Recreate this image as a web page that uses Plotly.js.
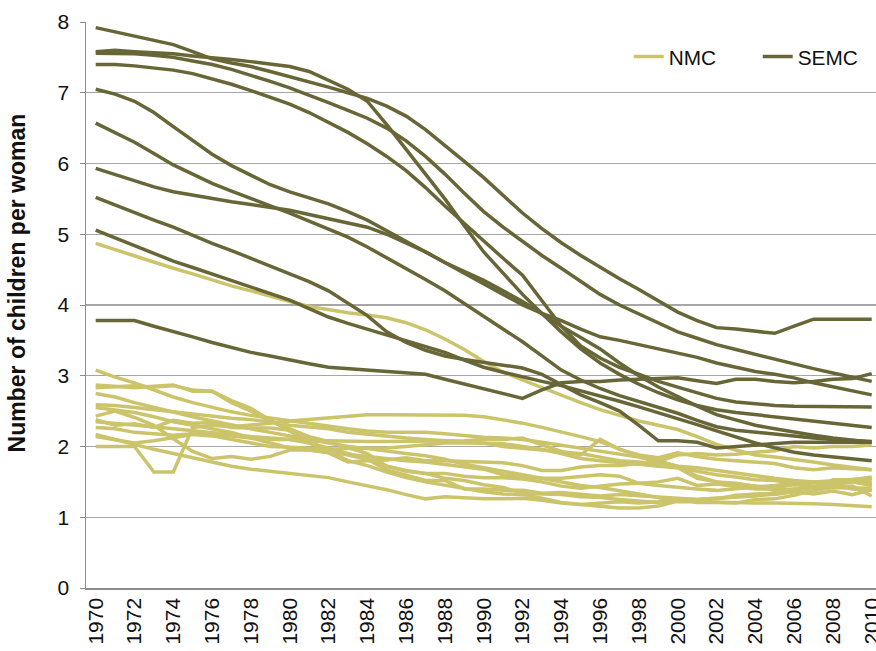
<!DOCTYPE html>
<html>
<head>
<meta charset="utf-8">
<script src="https://cdn.plot.ly/plotly-3.0.1.min.js"></script>
<style>html,body{margin:0;padding:0;background:#fff;}#chart{width:876px;height:651px;}</style>
</head>
<body>
<div id="chart"></div>
<script>
// Years (x categories)
var years = [];
for (var yr = 1970; yr <= 2010; yr++) years.push(yr);
var tickYears = [1970,1972,1974,1976,1978,1980,1982,1984,1986,1988,1990,1992,1994,1996,1998,2000,2002,2004,2006,2008,2010];
var tickLabels = tickYears.map(String);
var yTicks = [0,1,2,3,4,5,6,7,8];

// NMC series (light)
var nmc1 = [4.87,4.78,4.70,4.61,4.52, 4.44,4.35,4.27,4.20,4.12, 4.05,3.98,3.93,3.89,3.86, 3.82,3.75,3.65,3.52,3.37, 3.20,3.05,2.94,2.83,2.72, 2.62,2.52,2.44,2.36,2.30, 2.24,2.14,2.03,1.95,1.88, 1.85,1.82,1.78,1.74,1.70, 1.67];
var nmc2 = [3.08,2.98,2.90,2.80,2.70, 2.62,2.55,2.49,2.44,2.40, 2.37,2.32,2.28,2.25,2.22, 2.20,2.20,2.20,2.18,2.15, 2.13,2.12,2.10,2.06,2.02, 1.98,1.94,1.90,1.85,1.78, 1.72,1.70,1.66,1.62,1.58, 1.55,1.52,1.50,1.50,1.52, 1.52];
var nmc3 = [2.87,2.85,2.83,2.85,2.87, 2.78,2.78,2.62,2.50,2.36, 2.25,2.14,2.07,1.98,1.90, 1.72,1.66,1.62,1.62,1.58, 1.56,1.56,1.54,1.50,1.44, 1.41,1.44,1.47,1.48,1.50, 1.55,1.45,1.47,1.44,1.40, 1.40,1.36,1.33,1.37,1.32, 1.39];
var nmc4 = [2.83,2.85,2.86,2.84,2.86, 2.80,2.78,2.65,2.54,2.37, 2.22,2.05,1.94,1.80,1.73, 1.64,1.56,1.50,1.45,1.40, 1.36,1.33,1.32,1.27,1.21, 1.18,1.16,1.13,1.13,1.16, 1.23,1.24,1.26,1.31,1.32, 1.34,1.36,1.39,1.46,1.40, 1.38];
var nmc5 = [2.75,2.70,2.62,2.55,2.48, 2.42,2.36,2.30,2.25,2.20, 2.15,2.10,2.05,2.00,1.97, 1.93,1.90,1.87,1.82,1.75, 1.70,1.65,1.60,1.55,1.50, 1.45,1.42,1.38,1.33,1.28, 1.22,1.22,1.21,1.21,1.20, 1.20,1.20,1.19,1.18,1.17, 1.15];
var nmc6 = [2.00,2.00,2.00,1.64,1.64, 2.27,2.30,2.28,2.30,2.33, 2.36,2.38,2.40,2.42,2.45, 2.45,2.45,2.45,2.45,2.44, 2.42,2.38,2.33,2.27,2.21, 2.14,2.07,1.96,1.86,1.80, 1.72,1.58,1.50,1.46,1.44, 1.42,1.46,1.44,1.46,1.50, 1.45];
var nmc7 = [2.43,2.50,2.41,2.30,2.11, 1.93,1.83,1.86,1.82,1.86, 1.95,1.95,1.91,1.78,1.80, 1.81,1.84,1.80,1.80,1.79, 1.78,1.77,1.73,1.66,1.66, 1.71,1.73,1.73,1.76,1.79, 1.88,1.90,1.88,1.89,1.92, 1.94,2.00,1.98,2.00,2.00, 2.02];
var nmc8 = [2.38,2.30,2.32,2.27,2.37, 2.33,2.34,2.27,2.26,2.26, 2.23,2.09,1.94,1.88,1.82, 1.67,1.60,1.52,1.52,1.40, 1.40,1.38,1.38,1.34,1.35, 1.32,1.30,1.32,1.30,1.28, 1.26,1.25,1.27,1.28,1.30, 1.33,1.40,1.41,1.50,1.52, 1.48];
var nmc9 = [2.17,2.10,2.02,1.96,1.90, 1.84,1.78,1.72,1.68,1.65, 1.63,1.60,1.56,1.50,1.45, 1.39,1.32,1.26,1.29,1.27, 1.26,1.26,1.27,1.24,1.20, 1.18,1.20,1.22,1.20,1.22, 1.26,1.25,1.27,1.29,1.33, 1.32,1.36,1.38,1.42,1.41, 1.41];
var nmc10 = [2.27,2.25,2.20,2.18,2.16, 2.18,2.17,2.15,2.12,2.10, 2.10,2.05,1.98,1.90,1.82, 1.72,1.65,1.62,1.55,1.52, 1.46,1.42,1.34,1.33,1.32, 1.29,1.28,1.25,1.23,1.21, 1.26,1.21,1.21,1.20,1.25, 1.26,1.31,1.38,1.53,1.53, 1.57];
var nmc11 = [2.14,2.10,2.05,2.08,2.12, 2.17,2.15,2.10,2.05,2.00, 1.99,1.98,1.96,1.97,1.97, 1.98,2.00,2.02,2.05,2.05, 2.05,2.04,2.00,1.96,1.90, 1.83,1.80,1.78,1.75,1.72, 1.70,1.55,1.50,1.48,1.44, 1.38,1.40,1.38,1.43,1.44, 1.30];
var nmc12 = [2.35,2.33,2.30,2.28,2.25, 2.22,2.20,2.17,2.14,2.12, 2.10,2.08,2.08,2.07,2.07, 2.07,2.07,2.07,2.07,2.08, 2.10,2.10,2.12,2.02,1.93, 1.88,2.10,1.96,1.88,1.84, 1.91,1.86,1.82,1.80,1.78, 1.76,1.70,1.67,1.70,1.68, 1.67];
var nmc13 = [2.59,2.58,2.55,2.52,2.48, 2.45,2.42,2.40,2.38,2.35, 2.30,2.28,2.25,2.20,2.17, 2.14,2.12,2.10,2.08,2.06, 2.05,2.00,1.98,1.95,1.92, 1.90,1.85,1.80,1.78,1.75, 1.70,1.65,1.60,1.57,1.53, 1.52,1.48,1.50,1.52,1.54, 1.55];
var nmc14 = [2.55,2.52,2.48,2.42,2.35, 2.30,2.25,2.20,2.12,2.05, 1.98,1.95,1.92,1.88,1.85, 1.82,1.80,1.78,1.75,1.72, 1.68,1.60,1.58,1.55,1.55, 1.58,1.60,1.58,1.48,1.45, 1.42,1.40,1.38,1.40,1.42, 1.45,1.48,1.50,1.48,1.50, 1.46];

// SEMC series (dark)
var semcJ = [7.92,7.86,7.80,7.74,7.68, 7.58,7.48,7.42,7.37,7.30, 7.23,7.15,7.08,7.00,6.92, 6.81,6.67,6.48,6.26,6.03, 5.80,5.55,5.30,5.08,4.88, 4.70,4.53,4.37,4.22,4.06, 3.90,3.78,3.68,3.66,3.63, 3.60,3.70,3.80,3.80,3.80, 3.80];
var semcA = [7.58,7.60,7.58,7.57,7.55, 7.52,7.50,7.47,7.44,7.40, 7.37,7.30,7.18,7.05,6.88, 6.55,6.20,5.85,5.50,5.12, 4.75,4.45,4.15,3.88,3.62, 3.38,3.18,3.02,2.88,2.76, 2.66,2.58,2.52,2.48,2.45, 2.42,2.38,2.35,2.32,2.30, 2.27];
var semcC = [7.56,7.56,7.55,7.53,7.50, 7.45,7.40,7.33,7.25,7.16, 7.07,6.97,6.86,6.75,6.64, 6.50,6.32,6.10,5.85,5.58, 5.32,5.10,4.90,4.70,4.52, 4.33,4.15,4.00,3.87,3.74, 3.62,3.53,3.44,3.37,3.30, 3.23,3.16,3.10,3.04,2.98, 2.92];
var semcD = [7.40,7.40,7.38,7.35,7.32, 7.27,7.20,7.12,7.03,6.94, 6.84,6.72,6.58,6.44,6.28, 6.10,5.90,5.66,5.40,5.15, 4.90,4.66,4.42,4.05,3.70, 3.42,3.25,3.12,3.02,2.92, 2.84,2.76,2.68,2.63,2.60, 2.58,2.57,2.57,2.56,2.56, 2.56];
var semcE = [7.05,6.98,6.88,6.72,6.52, 6.32,6.13,5.97,5.83,5.70, 5.60,5.52,5.43,5.32,5.20, 5.05,4.90,4.75,4.60,4.45, 4.30,4.15,4.00,3.88,3.78, 3.66,3.55,3.50,3.44,3.38, 3.32,3.26,3.18,3.12,3.06, 3.02,2.97,2.90,2.84,2.79, 2.73];
var semcF = [5.93,5.84,5.75,5.67,5.60, 5.55,5.50,5.46,5.42,5.38, 5.34,5.28,5.22,5.16,5.10, 5.00,4.88,4.75,4.60,4.48, 4.35,4.20,4.05,3.88,3.70, 3.54,3.38,3.18,3.00,2.84, 2.70,2.57,2.45,2.37,2.30, 2.25,2.20,2.16,2.12,2.09, 2.06];
var semcG = [6.57,6.44,6.30,6.14,5.98, 5.85,5.72,5.61,5.50,5.40, 5.30,5.19,5.08,4.96,4.82, 4.67,4.52,4.36,4.20,4.02, 3.85,3.66,3.48,3.28,3.08, 2.94,2.82,2.72,2.64,2.56, 2.47,2.37,2.28,2.23,2.20, 2.17,2.14,2.12,2.10,2.08, 2.07];
var semcH = [5.52,5.41,5.30,5.20,5.10, 4.98,4.87,4.77,4.66,4.56, 4.45,4.33,4.20,4.02,3.85, 3.62,3.47,3.36,3.28,3.23, 3.19,3.15,3.11,3.02,2.87, 2.73,2.62,2.50,2.30,2.08, 2.08,2.06,1.98,2.00,2.03, 2.05,2.06,2.06,2.06,2.06, 2.06];
var semcI = [5.06,4.95,4.84,4.73,4.62, 4.53,4.44,4.35,4.25,4.16, 4.07,3.95,3.83,3.74,3.66, 3.58,3.50,3.42,3.33,3.22, 3.12,3.05,2.98,2.92,2.86, 2.79,2.72,2.64,2.56,2.48, 2.40,2.31,2.22,2.13,2.05, 1.98,1.92,1.88,1.85,1.82, 1.80];
var semcK = [3.78,3.78,3.78,3.70,3.63, 3.55,3.47,3.40,3.33,3.28, 3.22,3.17,3.12,3.10,3.08, 3.06,3.04,3.02,2.95,2.88, 2.82,2.75,2.68,2.80,2.90, 2.92,2.92,2.94,2.95,2.96, 2.97,2.93,2.89,2.95,2.95, 2.92,2.90,2.92,2.95,2.96, 3.03];

var nmcSeries = [nmc1,nmc2,nmc3,nmc4,nmc5,nmc6,nmc7,nmc8,nmc9,nmc10,nmc11,nmc12,nmc13,nmc14];
var semcSeries = [semcJ,semcA,semcC,semcD,semcE,semcF,semcG,semcH,semcI,semcK];

var NMC_COLOR = '#CCC46A';
var SEMC_COLOR = '#686637';
var LW = 3.5;

var traces = [];
nmcSeries.forEach(function(s, i) {
  traces.push({x: years, y: s, type: 'scatter', mode: 'lines', name: 'NMC',
    legendgroup: 'NMC', showlegend: i === 0, legendwidth: 84,
    line: {color: NMC_COLOR, width: LW}, hoverinfo: 'skip'});
});
semcSeries.forEach(function(s, i) {
  traces.push({x: years, y: s, type: 'scatter', mode: 'lines', name: 'SEMC',
    legendgroup: 'SEMC', showlegend: i === 0, legendwidth: 62,
    line: {color: SEMC_COLOR, width: LW}, hoverinfo: 'skip'});
});

var FONT = '"Liberation Sans", Arial, sans-serif';
var layout = {
  width: 876, height: 651,
  margin: {l: 86, r: 0, t: 22, b: 63, pad: 0},
  paper_bgcolor: '#ffffff', plot_bgcolor: '#ffffff',
  font: {family: FONT, color: '#111111', size: 20},
  showlegend: true,
  legend: {orientation: 'h', x: 0.687, xanchor: 'left', y: 0.938, yanchor: 'middle',
    font: {family: FONT, size: 20.8, color: '#111111'}, bgcolor: 'rgba(0,0,0,0)',
    traceorder: 'normal', itemwidth: 30, entrywidthmode: 'pixels'},
  xaxis: {
    range: [1969.5, 2010.22], tickmode: 'array', tickvals: tickYears, ticktext: tickLabels,
    tickangle: -90, tickfont: {family: FONT, size: 21, color: '#111111'},
    ticklabeloverflow: 'allow', automargin: false,
    showgrid: false, zeroline: false, showline: true, linecolor: '#8c8c8c', linewidth: 1.5,
    ticks: '', fixedrange: true
  },
  yaxis: {
    range: [0, 8], tickmode: 'array', tickvals: yTicks, automargin: false,
    tickfont: {family: FONT, size: 21, color: '#111111'},
    showgrid: true, gridcolor: '#a6a6a6', gridwidth: 1.2, zeroline: false,
    showline: true, linecolor: '#8c8c8c', linewidth: 1.5,
    ticks: 'outside', ticklen: 5, tickcolor: '#8c8c8c', ticklabelstandoff: 6, fixedrange: true
  },
  annotations: [{
    text: '<b>Number of children per woman</b>', textangle: -90,
    xref: 'paper', yref: 'paper', x: -0.088, y: 0.539, xanchor: 'center', yanchor: 'middle',
    showarrow: false, font: {family: FONT, size: 23, color: '#111111'}
  }]
};

Plotly.newPlot('chart', traces, layout, {staticPlot: true, displayModeBar: false});
</script>
</body>
</html>
